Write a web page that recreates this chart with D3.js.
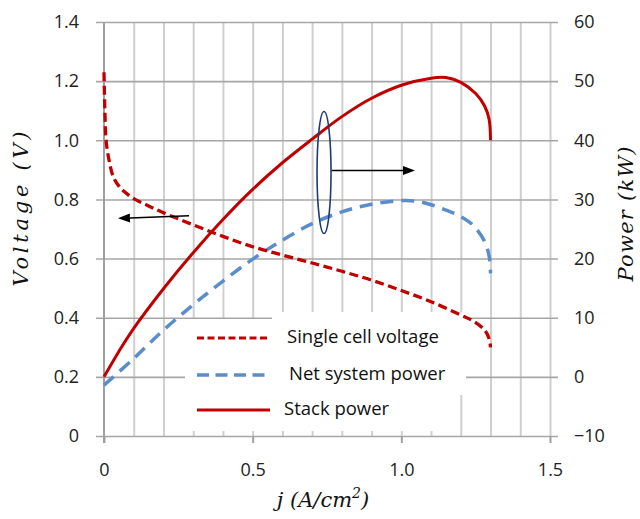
<!DOCTYPE html>
<html><head><meta charset="utf-8">
<script src="https://cdn.jsdelivr.net/npm/d3@7"></script>
<style>body{margin:0;background:#fff}svg{display:block}</style>
</head><body>
<svg id="c" width="640" height="519"></svg>
<script>
// ---- data ----
const voltageJ = [0, 0.003, 0.007, 0.017, 0.031, 0.05, 0.07, 0.1, 0.15, 0.2, 0.3, 0.4, 0.5, 0.6, 0.7, 0.8, 0.9, 1.0, 1.1, 1.2, 1.24, 1.28, 1.295, 1.3];
const voltage  = [1.23, 1.10, 1.0, 0.933, 0.877, 0.845, 0.825, 0.803, 0.778, 0.755, 0.714, 0.675, 0.640, 0.612, 0.585, 0.557, 0.527, 0.492, 0.454, 0.409, 0.39, 0.358, 0.33, 0.30];
const netJ     = [0, 0.1, 0.2, 0.3, 0.4, 0.5, 0.6, 0.7, 0.8, 0.9, 1.0, 1.05, 1.1, 1.15, 1.2, 1.24, 1.28, 1.295, 1.3];
const netPower = [-1.4, 3.1, 7.9, 12.2, 16.2, 19.9, 23.1, 25.9, 27.9, 29.2, 29.8, 29.7, 29.1, 28.2, 27.1, 25.7, 22.9, 20.5, 17.5];
const stackJ     = [0, 0.05, 0.1, 0.2, 0.3, 0.4, 0.5, 0.6, 0.7, 0.8, 0.9, 1.0, 1.1, 1.15, 1.2, 1.25, 1.28, 1.295, 1.3];
const stackPower = [0, 4.3, 8.2, 14.9, 21.0, 26.6, 31.7, 36.2, 40.2, 44.0, 47.1, 49.3, 50.5, 50.6, 49.8, 47.9, 45.8, 43.6, 40.0];
const voltageTicks = [0, 0.2, 0.4, 0.6, 0.8, 1.0, 1.2, 1.4];
const powerTicks = [-10, 0, 10, 20, 30, 40, 50, 60];
const jTicks = [0, 0.5, 1.0, 1.5];
const jGrid = [0.1,0.2,0.3,0.4,0.5,0.6,0.7,0.8,0.9,1.0,1.1,1.2,1.3,1.4,1.5];
const legendLabels = ["Single cell voltage", "Net system power", "Stack power"];

// ---- scales ----
const svg = d3.select("#c");
const x = d3.scaleLinear().domain([0, 1.5]).range([104, 550]);
const yV = d3.scaleLinear().domain([0, 1.4]).range([436, 22]);
const yP = d3.scaleLinear().domain([-10, 60]).range([436, 22]);
const font = "'Open Sans', sans-serif";
const RED = "#c00000", BLUE = "#5a8dcc";

// vertical grid
const vg = svg.append("g").attr("transform", "translate(0,436)")
  .call(d3.axisBottom(x).tickValues(jGrid).tickSize(-414).tickFormat(""));
vg.select(".domain").remove();
vg.selectAll(".tick line").attr("stroke", "#cfcfcf").attr("stroke-width", 2);

// horizontal grid + left labels
const lg = svg.append("g").attr("transform", "translate(96,0)")
  .call(d3.axisLeft(yV).tickValues(voltageTicks).tickSize(-462).tickPadding(17)
    .tickFormat(d => d === 0 ? "0" : d.toFixed(1)));
lg.select(".domain").remove();
lg.selectAll(".tick line").attr("stroke", "#a6a6a6").attr("stroke-width", 1.6);
lg.selectAll(".tick text").attr("font-family", font).attr("font-size", 18).attr("fill", "#222");

// y axis line at j=0
svg.append("line").attr("x1", x(0)).attr("x2", x(0)).attr("y1", yV(1.4)).attr("y2", 443)
  .attr("stroke", "#a0a0a0").attr("stroke-width", 2);

// right labels
const rg = svg.append("g").attr("transform", "translate(558,0)")
  .call(d3.axisRight(yP).tickValues(powerTicks).tickSize(0).tickPadding(16));
rg.select(".domain").remove();
rg.selectAll(".tick text").attr("font-family", font).attr("font-size", 18).attr("fill", "#222");

// bottom labels + ticks
const bg = svg.append("g").attr("transform", "translate(0,436)")
  .call(d3.axisBottom(x).tickValues(jTicks).tickSize(7).tickPadding(20)
    .tickFormat(d => d === 0 ? "0" : d.toFixed(1)));
bg.select(".domain").remove();
bg.selectAll(".tick line").attr("stroke", "#a0a0a0").attr("stroke-width", 2);
bg.selectAll(".tick text").attr("font-family", font).attr("font-size", 18).attr("fill", "#222");

// legend background boxes
svg.append("rect").attr("x", 185).attr("y", 319).attr("width", 281).attr("height", 76).attr("fill", "#fff");
svg.append("rect").attr("x", 272).attr("y", 312).attr("width", 194).attr("height", 8).attr("fill", "#fff");
svg.append("rect").attr("x", 185).attr("y", 394).attr("width", 270).attr("height", 37).attr("fill", "#fff");

// curves
const line = (ys) => d3.line().x(d => x(d[0])).y(d => ys(d[1])).curve(d3.curveCatmullRom.alpha(0.5));
svg.append("path").datum(d3.zip(stackJ, stackPower)).attr("d", line(yP))
  .attr("fill", "none").attr("stroke", RED).attr("stroke-width", 3);
svg.append("path").datum(d3.zip(netJ, netPower)).attr("d", line(yP))
  .attr("fill", "none").attr("stroke", BLUE).attr("stroke-width", 3.5).attr("stroke-dasharray", "13,8");
svg.append("path").datum(d3.zip(voltageJ, voltage)).attr("d", line(yV))
  .attr("fill", "none").attr("stroke", RED).attr("stroke-width", 3.3).attr("stroke-dasharray", "9,4.5");

// legend
const legY = [338, 375, 410];
const legStyle = [{c: RED, dash: "7,3.5", w: 3}, {c: BLUE, dash: "12,6.5", w: 3.5}, {c: RED, dash: null, w: 3}];
const textX = [287, 289, 284];
legendLabels.forEach((t, i) => {
  svg.append("line").attr("x1", 197).attr("x2", 270).attr("y1", legY[i]).attr("y2", legY[i])
    .attr("stroke", legStyle[i].c).attr("stroke-width", legStyle[i].w)
    .attr("stroke-dasharray", legStyle[i].dash);
  svg.append("text").attr("x", textX[i]).attr("y", legY[i] + 5).text(t)
    .attr("font-family", font).attr("font-size", 18.5).attr("fill", "#111");
});

// annotations: ellipse + arrows
svg.append("ellipse").attr("cx", x(0.74)).attr("cy", yV(0.891)).attr("rx", 7).attr("ry", 61)
  .attr("fill", "none").attr("stroke", "#1f3b73").attr("stroke-width", 1.6);
function arrow(x1, y1, x2, y2) {
  const ang = Math.atan2(y2 - y1, x2 - x1), L = 12, Wd = 4.5;
  const bx = x2 - L * Math.cos(ang), by = y2 - L * Math.sin(ang);
  svg.append("line").attr("x1", x1).attr("y1", y1).attr("x2", bx).attr("y2", by)
    .attr("stroke", "#000").attr("stroke-width", 1.5);
  svg.append("path").attr("d", `M${x2},${y2}L${bx - Wd * Math.sin(ang)},${by + Wd * Math.cos(ang)}L${bx + Wd * Math.sin(ang)},${by - Wd * Math.cos(ang)}Z`)
    .attr("fill", "#000");
}
arrow(x(0.286), yV(0.745), x(0.047), yV(0.736));
arrow(x(0.766), yP(34.9), x(1.046), yP(34.9));

// axis titles
const tfont = "'DejaVu Serif', serif";
svg.append("text").attr("transform", "translate(28,209) rotate(-90)").attr("text-anchor", "middle")
  .attr("font-family", tfont).attr("font-style", "italic").attr("font-size", 21).attr("fill", "#111")
  .attr("textLength", 155).text("Voltage (V)");
svg.append("text").attr("transform", "translate(633,214) rotate(-90)").attr("text-anchor", "middle")
  .attr("font-family", tfont).attr("font-style", "italic").attr("font-size", 21).attr("fill", "#111")
  .attr("textLength", 135).text("Power (kW)");
const xt = svg.append("text").attr("x", 323).attr("y", 507).attr("text-anchor", "middle")
  .attr("font-family", tfont).attr("font-style", "italic").attr("font-size", 21).attr("fill", "#111");
xt.append("tspan").text("j (A/cm");
xt.append("tspan").attr("dy", -9).attr("font-size", 14).text("2");
xt.append("tspan").attr("dy", 9).text(")");
</script></body></html>
